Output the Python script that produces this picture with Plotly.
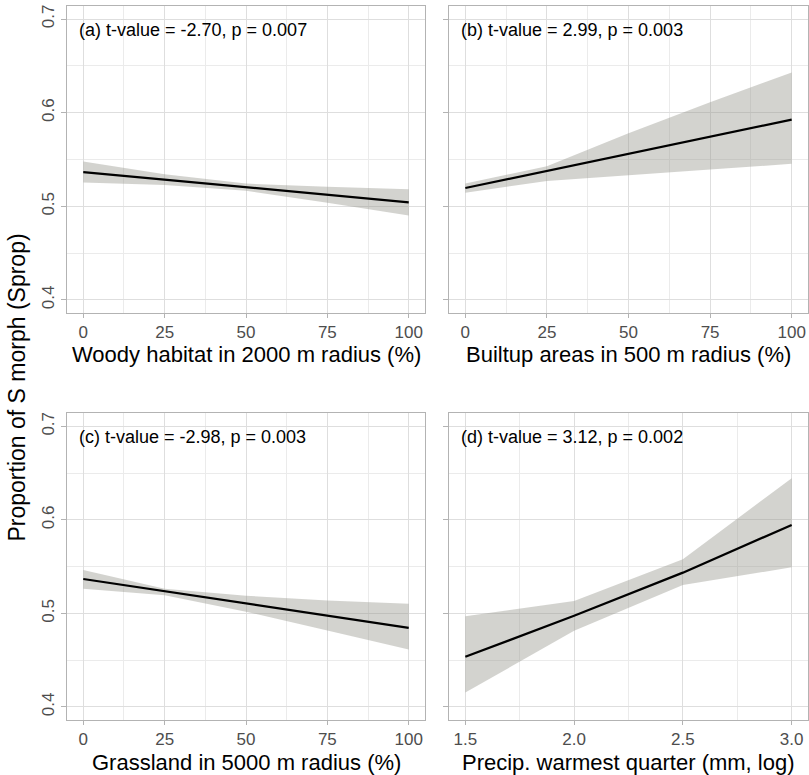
import plotly.graph_objects as go

# Predicted proportion of the S morph (fit with 95% confidence band)
woody_x = [0, 25, 50, 75, 100]
woody_fit = [0.5366, 0.5285, 0.5204, 0.5123, 0.5042]
woody_lo = [0.5254, 0.5229, 0.5165, 0.5039, 0.4901]
woody_hi = [0.5479, 0.5342, 0.5243, 0.5208, 0.5183]

built_x = [0, 25, 50, 75, 100]
built_fit = [0.5196, 0.5379, 0.5561, 0.5743, 0.5925]
built_lo = [0.5146, 0.5271, 0.5332, 0.5393, 0.5454]
built_hi = [0.5243, 0.5429, 0.5779, 0.6111, 0.6429]

grass_x = [0, 25, 50, 75, 100]
grass_fit = [0.5368, 0.5236, 0.5107, 0.4979, 0.4846]
grass_lo = [0.5264, 0.5193, 0.5018, 0.4818, 0.4614]
grass_hi = [0.5464, 0.5264, 0.5189, 0.5139, 0.5104]

precip_x = [1.5, 2.0, 2.5, 3.0]
precip_fit = [0.4536, 0.4975, 0.5436, 0.5946]
precip_lo = [0.4154, 0.4814, 0.5304, 0.5493]
precip_hi = [0.4971, 0.5132, 0.5579, 0.6446]

panel_labels = [
    "(a) t-value = -2.70, p = 0.007",
    "(b) t-value = 2.99, p = 0.003",
    "(c) t-value = -2.98, p = 0.003",
    "(d) t-value = 3.12, p = 0.002",
]
x_titles = [
    "Woody habitat in 2000 m radius (%)",
    "Builtup areas in 500 m radius (%)",
    "Grassland in 5000 m radius (%)",
    "Precip. warmest quarter (mm, log)",
]
y_title = "Proportion of S morph (Sprop)"

W, H = 809, 775
FONT = "Liberation Sans"
BORDER = "#B3B3B3"
GRID = "#DEDEDE"
GRID_MINOR = "#EBEBEB"
TICKTEXT = "#4D4D4D"
BAND = "rgba(150,150,140,0.42)"

left_dom = [67 / W, 425 / W]
right_dom = [449 / W, 808 / W]
top_dom = [1 - 313 / H, 1 - 6 / H]
bot_dom = [1 - 720 / H, 1 - 413.3 / H]

panels = [
    (woody_x, woody_fit, woody_lo, woody_hi, left_dom, top_dom),
    (built_x, built_fit, built_lo, built_hi, right_dom, top_dom),
    (grass_x, grass_fit, grass_lo, grass_hi, left_dom, bot_dom),
    (precip_x, precip_fit, precip_lo, precip_hi, right_dom, bot_dom),
]

fig = go.Figure()
layout = {}
annotations = []

for i, (xs, fit, lo, hi, xdom, ydom) in enumerate(panels):
    n = i + 1
    xa = "x" if n == 1 else f"x{n}"
    ya = "y" if n == 1 else f"y{n}"

    # confidence band as a closed polygon
    fig.add_trace(go.Scatter(
        x=list(xs) + list(xs)[::-1],
        y=list(hi) + list(lo)[::-1],
        fill="toself", fillcolor=BAND, line=dict(width=0),
        mode="lines", hoverinfo="skip", showlegend=False,
        xaxis=xa, yaxis=ya,
    ))
    fig.add_trace(go.Scatter(
        x=xs, y=fit, mode="lines",
        line=dict(color="black", width=2.2),
        showlegend=False, xaxis=xa, yaxis=ya,
    ))

    is_precip = (n == 4)
    xaxis = dict(
        domain=xdom, anchor=ya,
        range=[1.425, 3.075] if is_precip else [-5, 105],
        tick0=1.5 if is_precip else 0,
        dtick=0.5 if is_precip else 25,
        tickmode="linear",
        tickformat=".1f" if is_precip else "d",
        minor=dict(dtick=0.25 if is_precip else 12.5, showgrid=True,
                   gridcolor=GRID_MINOR, gridwidth=0.8, ticks=""),
        showgrid=True, gridcolor=GRID, gridwidth=1,
        showline=True, linecolor=BORDER, linewidth=1, mirror=True,
        ticks="outside", ticklen=4, tickcolor=BORDER, tickwidth=1,
        tickfont=dict(family=FONT, size=17, color=TICKTEXT),
        zeroline=False, fixedrange=True,
    )
    yaxis = dict(
        domain=ydom, anchor=xa,
        range=[0.3861, 0.7139],
        tick0=0.4, dtick=0.1, tickmode="linear", tickformat=".1f",
        minor=dict(dtick=0.05, showgrid=True, gridcolor=GRID_MINOR,
                   gridwidth=0.8, ticks=""),
        showgrid=True, gridcolor=GRID, gridwidth=1,
        showline=True, linecolor=BORDER, linewidth=1, mirror=True,
        ticks="outside", ticklen=5, tickcolor=BORDER, tickwidth=1,
        tickangle=-90,
        showticklabels=(n in (1, 3)),
        tickfont=dict(family=FONT, size=17, color=TICKTEXT),
        zeroline=False, fixedrange=True,
    )
    layout["xaxis" if n == 1 else f"xaxis{n}"] = xaxis
    layout["yaxis" if n == 1 else f"yaxis{n}"] = yaxis

    # panel statistic label
    annotations.append(dict(
        text=panel_labels[i], xref=f"{xa} domain", yref=f"{ya} domain",
        x=0.028, y=1 - 24 / 307, xanchor="left", yanchor="middle",
        showarrow=False, font=dict(family=FONT, size=18, color="black"),
    ))
    # x-axis title
    title_y = (1 - 355 / H) if n in (1, 2) else (1 - 762 / H)
    annotations.append(dict(
        text=x_titles[i], xref=f"{xa} domain", yref="paper",
        x=0.5, y=title_y, xanchor="center", yanchor="middle",
        showarrow=False, font=dict(family=FONT, size=22, color="black"),
    ))

# shared y-axis title
annotations.append(dict(
    text=y_title, xref="paper", yref="paper", x=16 / W, y=0.5,
    xanchor="center", yanchor="middle", textangle=-90,
    showarrow=False, font=dict(family=FONT, size=23, color="black"),
))

fig.update_layout(
    width=W, height=H,
    margin=dict(l=0, r=0, t=0, b=0),
    paper_bgcolor="white", plot_bgcolor="white",
    annotations=annotations,
    **layout,
)

fig.write_html("out.html")
